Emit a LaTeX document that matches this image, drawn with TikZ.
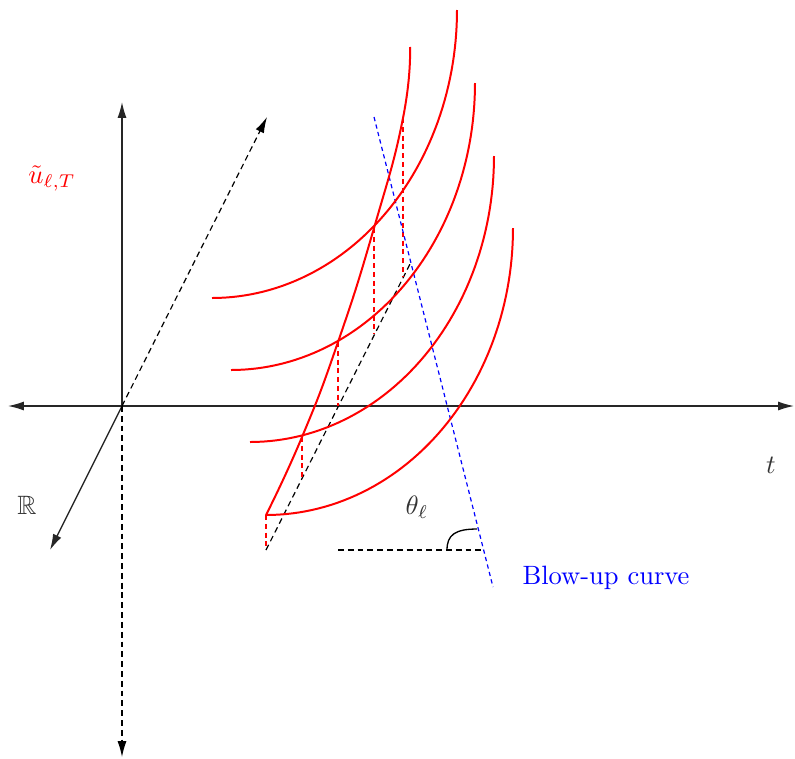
\documentclass[tikz,border=0pt]{standalone}
\usepackage{amssymb}
\usetikzlibrary{arrows.meta}
\begin{document}
\begin{tikzpicture}[x=0.377pt,y=-0.377pt,
  axis/.style={draw=black!85, line width=0.5pt},
  arr/.style={-{Latex[length=6pt,width=3.4pt]}},
  bidir/.style={{Latex[length=6pt,width=3.4pt]}-{Latex[length=6pt,width=3.4pt]}},
  bdash/.style={draw=black, line width=0.45pt, dash pattern=on 2.2pt off 1.5pt},
  redc/.style={draw=red, line width=0.75pt},
  rdash/.style={draw=red, line width=0.4pt, dash pattern=on 1.9pt off 1.4pt},
  bluedash/.style={draw=blue, line width=0.45pt, dash pattern=on 1.6pt off 1.3pt},
  lab/.style={text=black!80, inner sep=0pt}]
\useasboundingbox (0,0) rectangle (795,758);

% coordinates
\coordinate (O) at (122,406);
\coordinate (L) at (8,406);
\coordinate (R) at (794,406);
\coordinate (U) at (122,102);
\coordinate (D) at (122,757);
\coordinate (Rdir) at (50,550);
\coordinate (Ldir) at (267,117);
\coordinate (P0) at (266,550);
\coordinate (P4) at (410,264);
\coordinate (H1) at (338,550);
\coordinate (H2) at (485,550);
\coordinate (B1) at (374,117);
\coordinate (B2) at (493,587);
\coordinate (A1) at (447,550);
\coordinate (A2) at (477,529);

% blow-up points and their projections
\coordinate (C0) at (266,515);
\coordinate (C1) at (302,437);
\coordinate (C2) at (338,342);
\coordinate (C3) at (374,228);
\coordinate (C4) at (403,118);
\coordinate (C5) at (410,47);
\coordinate (Q1) at (302,478);
\coordinate (Q2) at (338,406);
\coordinate (Q3) at (374,334);
\coordinate (Q4) at (403,277);

% axes
\draw[axis, bidir] (L) -- (R);
\draw[axis, arr] (O) -- (U);
\draw[axis, arr] (O) -- (Rdir);
\draw[bdash, arr] (O) -- (D);
\draw[bdash, arr] (O) -- (Ldir);

% projection line
\draw[bdash] (P0) -- (P4);

% red dashed verticals
\draw[rdash] (C0) -- (P0);
\draw[rdash] (C1) -- (Q1);
\draw[rdash] (C2) -- (Q2);
\draw[rdash] (C3) -- (Q3);
\draw[rdash] (C4) -- (Q4);

% blue dashed line
\draw[bluedash] (B1) -- (B2);

% red arcs (quarter ellipses)
\draw[redc] plot[domain=90:0, samples=60] ({212+245*cos(\x)},{10+288*sin(\x)});
\draw[redc] plot[domain=90:0, samples=60] ({231+244*cos(\x)},{83+287*sin(\x)});
\draw[redc] plot[domain=90:0, samples=60] ({250+244*cos(\x)},{156+286*sin(\x)});
\draw[redc] plot[domain=90:0, samples=60] ({266+247*cos(\x)},{228+287*sin(\x)});

% blow-up curve
\draw[redc] plot[smooth, tension=0.85] coordinates {(C0) (C1) (C2) (C3) (C4) (C5)};

% angle
\draw[draw=black, line width=0.5pt] (A1) .. controls (447,535) and (455,529) .. (A2);
\draw[bdash] (H1) -- (H2);

% labels
\node[text=red, inner sep=0pt] (ulabel) at (52,178) {$\tilde u_{\ell,T}$};
\node[lab] (rlabel) at (27,505) {$\mathbb{R}$};
\node[lab] (tlabel) at (771,465) {$t$};
\node[lab] (thlabel) at (417,507) {$\theta_\ell$};
\node[text=blue, inner sep=0pt] (blabel) at (606,578) {Blow-up curve};
\end{tikzpicture}
\end{document}
